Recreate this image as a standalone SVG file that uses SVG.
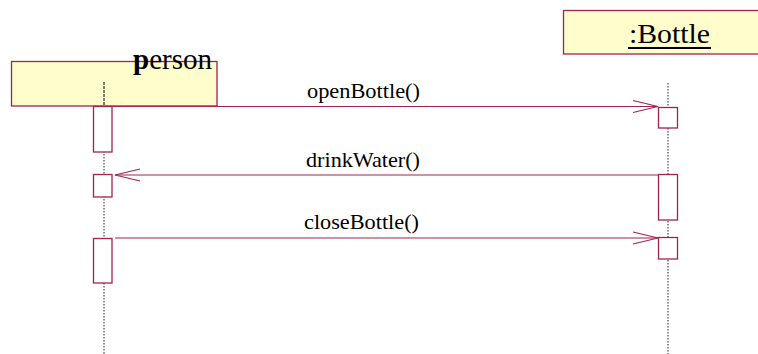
<svg xmlns="http://www.w3.org/2000/svg" width="758" height="354" viewBox="0 0 758 354">
<style>
.obj{fill:#FEFDCB;stroke:#A3234F;stroke-width:1.3}
.act{fill:#FFFFFF;stroke:#A3234F;stroke-width:1.3}
.life{stroke:#222;stroke-width:1;stroke-dasharray:1.5,1.5;fill:none}
.msg{stroke:#A3234F;stroke-width:1.2;fill:none}
text{font-family:'Liberation Serif',serif;fill:#000}
.lbl{font-size:21.5px}
</style>
<rect width="758" height="354" fill="#FFFFFF"/>
<g id="lifelines">
<line class="life" x1="104" y1="82" x2="104" y2="354"/>
<line class="life" x1="668" y1="83" x2="668" y2="354"/>
</g>
<g id="person">
<rect class="obj" x="11.5" y="61.5" width="205.5" height="44.5"/>
<line x1="104" y1="82" x2="104" y2="106" stroke="#000" stroke-width="1" stroke-dasharray="3,1"/>
<text x="133" y="69" font-family="Liberation Serif" font-size="28.5" textLength="79" lengthAdjust="spacingAndGlyphs"><tspan font-weight="bold">p</tspan>erson</text>
</g>
<g id="bottle">
<rect class="obj" x="563.5" y="10.5" width="210" height="43.5"/>
<text x="629" y="43.3" font-family="Liberation Serif" font-size="28" textLength="81" lengthAdjust="spacingAndGlyphs">:Bottle</text>
<line x1="628" y1="48" x2="711" y2="48" stroke="#000" stroke-width="1.8"/>
</g>
<g id="activations">
<rect class="act" x="93.5" y="106.5" width="18.5" height="45.5"/>
<rect class="act" x="93.5" y="174.5" width="18.5" height="22.5"/>
<rect class="act" x="93.5" y="238.5" width="18.5" height="44.5"/>
<rect class="act" x="658.5" y="107.5" width="19" height="20.5"/>
<rect class="act" x="658.5" y="174.5" width="19" height="45.5"/>
<rect class="act" x="658.5" y="237.5" width="19" height="21.5"/>
</g>
<g id="connectors">
<line class="msg" x1="112" y1="106.5" x2="658" y2="106.5"/>
<polyline class="msg" points="633,100.5 658,106.5 633,112.5"/>
<line class="msg" x1="115" y1="175" x2="658" y2="175"/>
<polyline class="msg" points="140,169 115,175 140,181"/>
<line class="msg" x1="115" y1="238" x2="658" y2="238"/>
<polyline class="msg" points="633,232 658,238 633,244"/>
</g>
<g id="labels">
<text class="lbl" x="307" y="98.3" font-family="Liberation Serif" textLength="113" lengthAdjust="spacingAndGlyphs">openBottle()</text>
<text class="lbl" x="306" y="166.5" font-family="Liberation Serif" textLength="114" lengthAdjust="spacingAndGlyphs">drinkWater()</text>
<text class="lbl" x="304" y="229" font-family="Liberation Serif" textLength="115" lengthAdjust="spacingAndGlyphs">closeBottle()</text>
</g>
</svg>
